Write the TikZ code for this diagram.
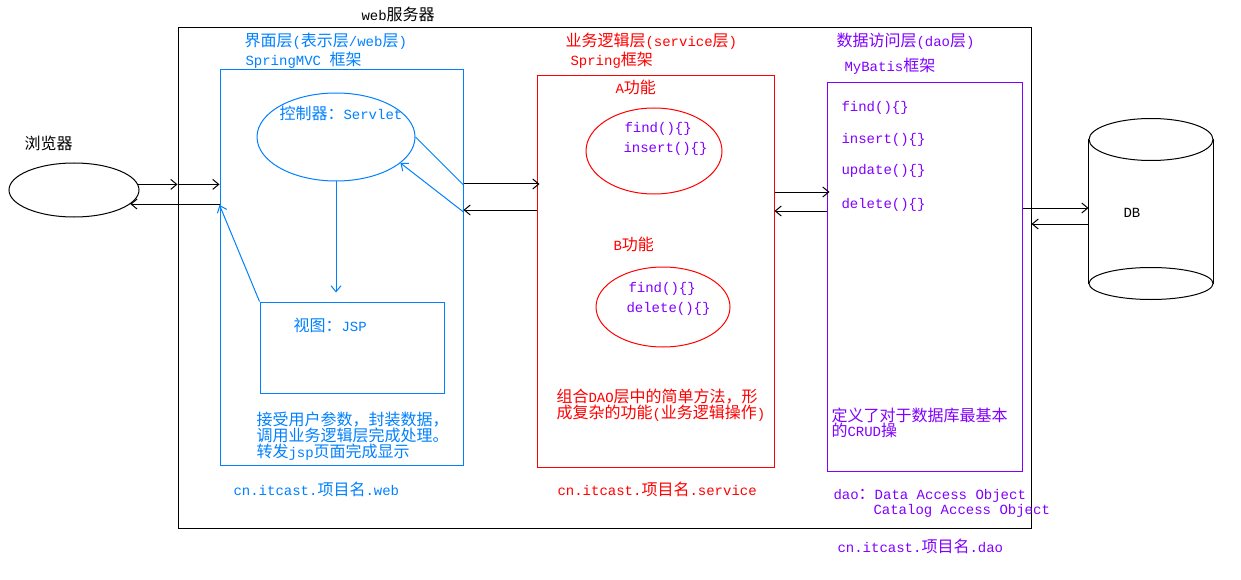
\documentclass[tikz,border=0pt]{standalone}
\usepackage{fontspec}
\setmainfont{Liberation Mono}
\newfontfamily\cjk{Noto Sans CJK SC}[Scale=1.1429]
\newfontfamily\lat{Liberation Mono}
\usetikzlibrary{shapes.geometric,arrows.meta}
\XeTeXinterchartokenstate=1
\chardef\CJKcls=100
\newcount\cc
\cc="3000 \loop\XeTeXcharclass\cc=\CJKcls \advance\cc 1 \ifnum\cc<"3040 \repeat
\cc="4E00 \loop\XeTeXcharclass\cc=\CJKcls \advance\cc 1 \ifnum\cc<"A000 \repeat
\cc="FF00 \loop\XeTeXcharclass\cc=\CJKcls \advance\cc 1 \ifnum\cc<"FF60 \repeat
\XeTeXinterchartoks 0 \CJKcls={\cjk}
\XeTeXinterchartoks 4095 \CJKcls={\cjk}
\XeTeXinterchartoks \CJKcls 0={\lat}
\XeTeXinterchartoks 4095 0={\lat}
\definecolor{cblue}{RGB}{0,128,255}
\definecolor{cred}{RGB}{255,0,0}
\definecolor{cpur}{RGB}{128,0,255}
\begin{document}
\begin{tikzpicture}[x=1pt,y=-1pt,line width=1pt,
  every node/.style={font=\fontsize{14}{16}\selectfont,inner sep=0pt},
  txt/.style={anchor=base west},
  box/.style={draw,rectangle,inner sep=0pt},
  ell/.style={draw,ellipse,inner sep=0pt},
  arr/.style={-{Straight Barb[length=6pt,width=10pt,line width=1pt]}},
  blarr/.style={arr,cblue}]
\useasboundingbox (0,0) rectangle (1241,580);
% containers
\node[box,minimum width=853,minimum height=500] (outer) at (604.5,278) {};
\node[box,cblue,minimum width=243,minimum height=395] (blue) at (341.5,267.5) {};
\node[box,cblue,minimum width=184,minimum height=91] (view) at (352,347.5) {};
\node[box,cred,minimum width=237,minimum height=391] (red) at (655.5,271.5) {};
\node[box,cpur,minimum width=195,minimum height=388] (purple) at (924.5,277) {};
% ellipses
\node[ell,minimum width=130,minimum height=54] (browser) at (74,190) {};
\node[ell,cblue,minimum width=158,minimum height=88] (ctrl) at (336,137) {};
\node[ell,cred,minimum width=136,minimum height=86] (ellA) at (654,151) {};
\node[ell,cred,minimum width=134,minimum height=80] (ellB) at (663,307) {};
% database
\node[minimum width=124,minimum height=143] (db) at (1151,211.5) {};
\draw (db.north west) -- (db.south west);
\draw (db.north east) -- (db.south east);
\draw[fill=white] (db.north) ellipse [x radius=62pt,y radius=21pt];
\draw[fill=white] (db.south) ellipse [x radius=62pt,y radius=16pt];
\node[txt] (dbl) at (1123,217) {DB};
% texts black
\node[txt] (tweb) at (361,21) {web服务器};
\node[txt] (tbr) at (24,150) {浏览器};
% texts blue
\begin{scope}[every node/.append style={text=cblue}]
\node[txt] (b1) at (244,47) {界面层(表示层/web层)};
\node[txt] (b2) at (245,66) {SpringMVC 框架};
\node[txt] (b3) at (279,120) {控制器：Servlet};
\node[txt] (b4) at (293,331) {视图：JSP};
\node[txt] (b5) at (256,425) {接受用户参数，封装数据，};
\node[txt] (b6) at (256,441) {调用业务逻辑层完成处理。};
\node[txt] (b7) at (256,457) {转发jsp页面完成显示};
\node[txt] (b8) at (233,495) {cn.itcast.项目名.web};
\end{scope}
% texts red
\begin{scope}[every node/.append style={text=cred}]
\node[txt] (r1) at (565,47) {业务逻辑层(service层)};
\node[txt] (r2) at (570,66) {Spring框架};
\node[txt] (r3) at (615,94) {A功能};
\node[txt] (r4) at (613,250) {B功能};
\node[txt] (r5) at (556,402) {组合DAO层中的简单方法，形};
\node[txt] (r6) at (556,418) {成复杂的功能(业务逻辑操作)};
\node[txt] (r7) at (557,495) {cn.itcast.项目名.service};
\end{scope}
% texts purple
\begin{scope}[every node/.append style={text=cpur}]
\node[txt] (p1) at (624,133) {find()\{\}};
\node[txt] (p2) at (623,153) {insert()\{\}};
\node[txt] (p3) at (628,292) {find()\{\}};
\node[txt] (p4) at (626,312) {delete()\{\}};
\node[txt] (p5) at (836,47) {数据访问层(dao层)};
\node[txt] (p6) at (844,72) {MyBatis框架};
\node[txt] (p7) at (841,112) {find()\{\}};
\node[txt] (p8) at (841,144) {insert()\{\}};
\node[txt] (p9) at (841,175) {update()\{\}};
\node[txt] (p10) at (841,208) {delete()\{\}};
\node[txt] (p11) at (831,421) {定义了对于数据库最基本};
\node[txt] (p12) at (831,436) {的CRUD操};
\node[txt] (p13) at (833,499) {dao：Data Access Object};
\node[txt] (p14) at (873,514) {Catalog Access Object};
\node[txt] (p15) at (837,552) {cn.itcast.项目名.dao};
\end{scope}
% connectors black
\draw[arr] (browser.5) -- (outer.west |- browser.5);
\draw[arr] (outer.west |- browser.5) -- (blue.west |- browser.5);
\draw[arr] (blue.west |- browser.-14) -- (browser.-14);
\draw[arr,shorten >=-3pt] (blue.east |- 0,184) -- (red.west |- 0,184);
\draw[arr] (red.west |- 0,210) -- (blue.east |- 0,210);
\draw[arr,shorten >=-3pt] (red.east |- 0,192) -- (purple.west |- 0,192);
\draw[arr] (purple.west |- 0,211) -- (red.east |- 0,211);
\draw[arr] (purple.east |- 0,208) -- (db.west |- 0,208);
\draw[arr] (db.west |- 0,224) -- (outer.east |- 0,224);
% connectors blue
\draw[blarr,shorten >=9pt] (ctrl.south) -- (ctrl.south |- view.north);
\draw[blarr] (view.north west) -- (blue.west |- 0,205);
\draw[cblue] (ctrl.east) -- (blue.east |- 0,185);
\draw[blarr] (blue.east |- 0,212) -- (ctrl.-22);
\end{tikzpicture}
\end{document}
